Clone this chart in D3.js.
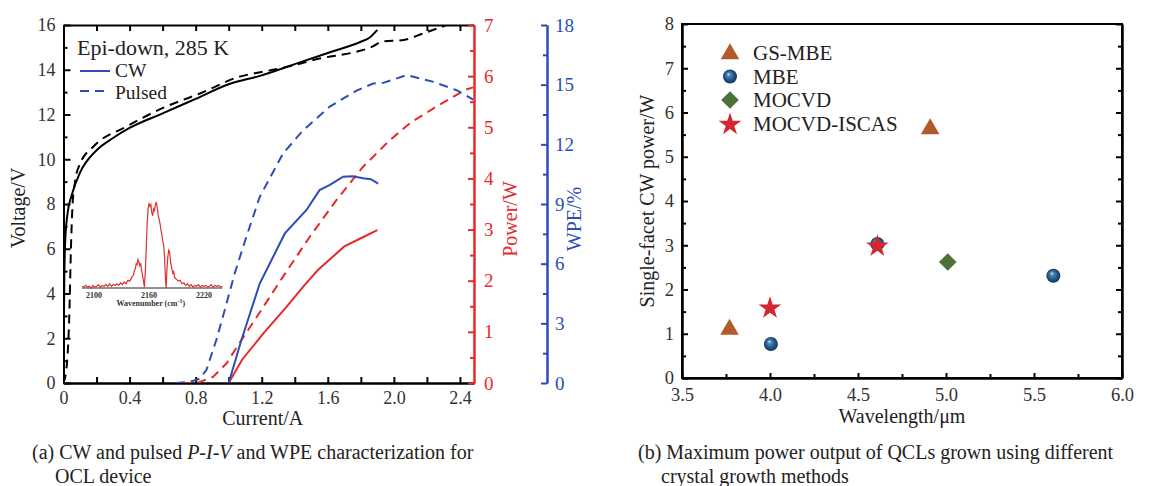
<!DOCTYPE html>
<html><head><meta charset="utf-8">
<script src="https://cdn.jsdelivr.net/npm/d3@7"></script>
<style>
body{margin:0;background:#fff;}
svg{display:block;font-family:"Liberation Serif","Times New Roman",serif;}
.ax path,.ax line{stroke:#000;stroke-width:2;}
.ax text{font-size:18px;fill:#333;font-family:"Liberation Serif","Times New Roman",serif;}
</style></head>
<body><svg id="c" width="1150" height="486"></svg>
<script>
// ---------- (a) data ----------
const cwVoltI   = [0,0.004,0.01,0.025,0.05,0.1,0.2,0.3,0.4,0.6,0.8,1.0,1.2,1.4,1.6,1.8,1.85,1.9];
const cwVoltV   = [0,4,6.3,7.6,8.4,9.4,10.4,10.95,11.4,12.05,12.7,13.35,13.75,14.25,14.75,15.25,15.42,15.78];
const puVoltI   = [0,0.02,0.035,0.045,0.055,0.07,0.1,0.18,0.38,0.62,0.83,1.07,1.2,1.36,1.55,1.77,1.87,1.93,2.06,2.18,2.32];
const puVoltV   = [0,0.8,3,6,8,9,9.8,10.56,11.46,12.35,12.95,13.7,13.9,14.14,14.5,14.8,15.03,15.26,15.33,15.63,16.0];
const cwPowI    = [1.0,1.08,1.21,1.35,1.45,1.54,1.7,1.8,1.9];
const cwPowP    = [0,0.45,0.97,1.49,1.88,2.21,2.67,2.83,2.99];
const puPowI    = [0.72,0.81,0.905,0.986,1.077,1.198,1.329,1.491,1.653,1.814,1.976,2.097,2.24,2.43,2.48];
const puPowP    = [0,0,0.12,0.38,0.84,1.43,2.08,2.86,3.58,4.23,4.75,5.08,5.37,5.73,5.78];
const cwWpeI    = [1.0,1.077,1.188,1.34,1.471,1.55,1.61,1.693,1.75,1.814,1.86,1.905];
const cwWpeW    = [0,2.16,5.0,7.52,8.7,9.7,9.95,10.37,10.4,10.29,10.25,10.03];
const puWpeI    = [0.68,0.76,0.82,0.865,0.925,0.976,1.036,1.107,1.188,1.329,1.45,1.612,1.774,1.875,1.935,2.077,2.24,2.38,2.48];
const puWpeW    = [0,0.05,0.2,0.65,2.16,3.67,5.5,7.35,9.36,11.54,12.7,13.9,14.7,15.06,15.09,15.48,15.14,14.72,14.25];
// inset spectrum
const specWn = [2087,2089,2091,2093,2095,2097,2099,2101,2103,2105,2107,2109,2111,2113,2115,2117,2119,2121,2123,2125,2127,2129,2131,2133,2135,2137,2139,2141,2143,2144,2145,2146,2147,2148,2149,2150,2151,2152,2153,2154,2155,2156,2157,2158,2159,2160,2161,2162,2163,2164,2165,2166,2167,2168,2169,2170,2171,2172,2173,2174,2175,2176,2177,2178,2178.7,2179.5,2180.5,2181.5,2182.5,2183.5,2185,2186,2187,2188,2190,2192,2194,2196,2198,2200,2202,2204,2206,2208,2210,2212,2214,2216,2218,2220,2222,2224,2226,2228,2230,2232,2234,2236,2238,2240];
const specInt = [0.02,0.01,0.03,0.01,0.02,0.0,0.03,0.01,0.02,0.04,0.01,0.03,0.02,0.04,0.02,0.05,0.02,0.04,0.03,0.05,0.03,0.06,0.04,0.07,0.05,0.09,0.08,0.12,0.15,0.2,0.22,0.28,0.27,0.33,0.3,0.26,0.28,0.2,0.14,0.08,0.01,0.2,0.45,0.75,0.92,0.98,0.95,0.97,0.88,0.84,0.92,0.9,0.97,1.0,0.93,0.85,0.8,0.75,0.68,0.62,0.55,0.5,0.35,0.1,0.0,0.2,0.36,0.44,0.42,0.3,0.22,0.17,0.19,0.12,0.1,0.08,0.09,0.05,0.06,0.03,0.05,0.02,0.04,0.01,0.03,0.02,0.04,0.01,0.03,0.02,0.03,0.01,0.02,0.04,0.01,0.03,0.02,0.03,0.01,0.02];
const specTicks = [2100,2160,2220];
const xTicksA = [0,0.4,0.8,1.2,1.6,2.0,2.4];
const vTicks = [0,2,4,6,8,10,12,14,16];
const pTicks = [0,1,2,3,4,5,6,7];
const wTicks = [0,3,6,9,12,15,18];

// ---------- (b) data ----------
const methods = ["GS-MBE","MBE","MOCVD","MOCVD-ISCAS"];
const gsmbeWl = [3.77,4.91], gsmbeP = [1.12,5.65];
const mbeWl = [4.005,4.61,5.61], mbeP = [0.77,3.03,2.31];
const mocvdWl = [5.01], mocvdP = [2.62];
const iscasWl = [4.0,4.61], iscasP = [1.6,3.0];
const xTicksB = [3.5,4.0,4.5,5.0,5.5,6.0];
const yTicksB = [0,1,2,3,4,5,6,7,8];

const SERIF = '"Liberation Serif","Times New Roman",serif';
const RED="#e52a2a", BLUE="#2c4db3";
const svg = d3.select("#c");
const defs = svg.append("defs");
const gr = defs.append("radialGradient").attr("id","ball").attr("cx","50%").attr("cy","50%").attr("fx","38%").attr("fy","32%").attr("r","55%");
gr.append("stop").attr("offset","0%").attr("stop-color","#dfeefa");
gr.append("stop").attr("offset","22%").attr("stop-color","#4d88bb");
gr.append("stop").attr("offset","65%").attr("stop-color","#1d5282");
gr.append("stop").attr("offset","100%").attr("stop-color","#0e2d4d");
defs.append("clipPath").attr("id","clipA").append("rect").attr("x",63.5).attr("y",25).attr("width",410.5).attr("height",358);

function axisG(parent, cls, tr, ax){
  const g = parent.append("g").attr("class",cls).attr("transform",tr).call(ax);
  g.attr("font-family",SERIF);
  return g;
}

// ===== (a) =====
const x = d3.scaleLinear().domain([0,2.485]).range([63.5,474]);
const yV = d3.scaleLinear().domain([0,16]).range([383,25]);
const yP = d3.scaleLinear().domain([0,7]).range([383,25]);
const yW = d3.scaleLinear().domain([0,18]).range([383,25]);

const gA = svg.append("g");
axisG(gA,"ax","translate(0,383)",d3.axisBottom(x).tickValues(xTicksA).tickSizeInner(-6).tickSizeOuter(0).tickPadding(8)
        .tickFormat(d=>d===0?"0":d3.format(".1f")(d)));
axisG(gA,"ax","translate(0,383)",d3.axisBottom(x).tickValues(d3.range(0.2,2.5,0.4)).tickSizeInner(-6).tickSizeOuter(0).tickFormat(""));
axisG(gA,"ax","translate(0,25)",d3.axisTop(x).tickValues(d3.range(0,2.45,0.2)).tickSizeInner(-6).tickSizeOuter(0).tickFormat(""));
axisG(gA,"ax","translate(63.5,0)",d3.axisLeft(yV).tickValues(vTicks).tickSizeInner(-7).tickSizeOuter(0).tickPadding(8).tickFormat(d3.format("d")));
axisG(gA,"ax","translate(63.5,0)",d3.axisLeft(yV).tickValues(d3.range(1,16,2)).tickSizeInner(-4).tickSizeOuter(0).tickFormat(""));
axisG(gA,"ax red","translate(474,0)",d3.axisRight(yP).tickValues(pTicks).tickSizeInner(-6).tickSizeOuter(0).tickPadding(10).tickFormat(d3.format("d")));
axisG(gA,"ax red","translate(474,0)",d3.axisRight(yP).tickValues(d3.range(0.5,7,1)).tickSizeInner(-4).tickSizeOuter(0).tickFormat(""));
axisG(gA,"ax blue","translate(547,0)",d3.axisRight(yW).tickValues(wTicks).tickSizeInner(-6).tickSizeOuter(0).tickPadding(8).tickFormat(d3.format("d")));
axisG(gA,"ax blue","translate(547,0)",d3.axisRight(yW).tickValues(d3.range(1.5,18,3)).tickSizeInner(-4).tickSizeOuter(0).tickFormat(""));
gA.selectAll(".red path,.red line").style("stroke",RED);
gA.selectAll(".red text").style("fill",RED).style("font-size","19px");
gA.selectAll(".blue path,.blue line").style("stroke",BLUE);
gA.selectAll(".blue text").style("fill",BLUE).style("font-size","19px");

const plotA = gA.append("g").attr("clip-path","url(#clipA)");
function drawLine(xs, ys, ysc, col, dash, curve){
  const data = xs.map((v,i)=>[v,ys[i]]);
  plotA.append("path").datum(data)
    .attr("d", d3.line().x(d=>x(d[0])).y(d=>ysc(d[1])).curve(curve))
    .attr("fill","none").attr("stroke",col).attr("stroke-width",2)
    .attr("stroke-dasharray",dash?"9,6":null);
}
drawLine(puVoltI,puVoltV,yV,"#000",true,d3.curveMonotoneX);
drawLine(cwVoltI,cwVoltV,yV,"#000",false,d3.curveMonotoneX);
drawLine(puPowI,puPowP,yP,RED,true,d3.curveLinear);
drawLine(cwPowI,cwPowP,yP,RED,false,d3.curveLinear);
drawLine(puWpeI,puWpeW,yW,BLUE,true,d3.curveLinear);
drawLine(cwWpeI,cwWpeW,yW,BLUE,false,d3.curveLinear);

gA.append("text").attr("x",77).attr("y",55).style("font-size","22px").attr("fill","#222").text("Epi-down, 285 K");
gA.append("line").attr("x1",80).attr("x2",110).attr("y1",71).attr("y2",71).attr("stroke",BLUE).attr("stroke-width",2);
gA.append("text").attr("x",115).attr("y",77).style("font-size","19.5px").attr("fill","#222").text("CW");
gA.append("line").attr("x1",80).attr("x2",110).attr("y1",91).attr("y2",91).attr("stroke",BLUE).attr("stroke-width",2).attr("stroke-dasharray","9,6");
gA.append("text").attr("x",115).attr("y",98.5).style("font-size","19.5px").attr("fill","#222").text("Pulsed");

// inset
const xi = d3.scaleLinear().domain([2100,2220]).range([94,204]);
const yi = d3.scaleLinear().domain([0,1]).range([288,202]);
gA.append("line").attr("x1",xi(2087)).attr("x2",xi(2240)).attr("y1",yi(0)).attr("y2",yi(0)).attr("stroke","#222").attr("stroke-width",1);
gA.append("path").datum(specWn.map((w,i)=>[w,specInt[i]]))
  .attr("d",d3.line().x(d=>xi(d[0])).y(d=>yi(d[1])))
  .attr("fill","none").attr("stroke","#e03030").attr("stroke-width",1.2);
gA.selectAll(".itk").data(specTicks).enter().append("text")
  .attr("x",d=>xi(d)).attr("y",298).attr("text-anchor","middle")
  .style("font-size","8px").style("font-weight","bold").attr("fill","#333").text(d=>d);
const wl = gA.append("text").attr("x",xi(2162)).attr("y",306).attr("text-anchor","middle").style("font-size","8px").style("font-weight","bold").attr("fill","#333");
wl.append("tspan").text("Wavenumber (cm");
wl.append("tspan").attr("dy",-3).style("font-size","6px").text("-1");
wl.append("tspan").attr("dy",3).text(")");

gA.append("text").attr("transform","translate(25,208) rotate(-90)").attr("text-anchor","middle").style("font-size","20px").attr("fill","#222").text("Voltage/V");
gA.append("text").attr("transform","translate(517,219) rotate(-90)").attr("text-anchor","middle").style("font-size","20px").attr("fill",RED).text("Power/W");
gA.append("text").attr("transform","translate(581,219) rotate(-90)").attr("text-anchor","middle").style("font-size","20px").attr("fill",BLUE).text("WPE/%");
gA.append("text").attr("x",x(1.2)+1).attr("y",425).attr("text-anchor","middle").style("font-size","20px").attr("fill","#222").text("Current/A");
const capA = gA.append("text").attr("x",32).attr("y",459).style("font-size","20px").attr("fill","#222");
capA.append("tspan").text("(a) CW and pulsed ");
capA.append("tspan").style("font-style","italic").text("P-I-V");
capA.append("tspan").text(" and WPE characterization for");
gA.append("text").attr("x",55).attr("y",483).style("font-size","20px").attr("fill","#222").text("OCL device");

// ===== (b) =====
const xb = d3.scaleLinear().domain([3.5,6.0]).range([682,1122]);
const yb = d3.scaleLinear().domain([0,8]).range([378,24]);
const gB = svg.append("g");
gB.append("rect").attr("x",682).attr("y",24).attr("width",440).attr("height",354).attr("fill","none").attr("stroke","#000").attr("stroke-width",2);
axisG(gB,"ax","translate(0,378)",d3.axisBottom(xb).tickValues(xTicksB).tickSizeInner(-5).tickSizeOuter(0).tickPadding(10).tickFormat(d3.format(".1f")));
axisG(gB,"ax","translate(0,378)",d3.axisBottom(xb).tickValues(d3.range(3.75,6,0.5)).tickSizeInner(-4).tickSizeOuter(0).tickFormat(""));
axisG(gB,"ax","translate(682,0)",d3.axisLeft(yb).tickValues(yTicksB).tickSizeInner(-6).tickSizeOuter(0).tickPadding(8).tickFormat(d3.format("d")));
axisG(gB,"ax","translate(682,0)",d3.axisLeft(yb).tickValues(d3.range(0.5,8,1)).tickSizeInner(-4).tickSizeOuter(0).tickFormat(""));
axisG(gB,"ax","translate(1122,0)",d3.axisRight(yb).tickValues(yTicksB).tickSizeInner(-6).tickSizeOuter(0).tickFormat(""));
axisG(gB,"ax","translate(1122,0)",d3.axisRight(yb).tickValues(d3.range(0.5,8,1)).tickSizeInner(-4).tickSizeOuter(0).tickFormat(""));
gB.selectAll(".ax text").style("font-size","18.5px");

const triSym = d3.symbol().type(d3.symbolTriangle).size(150);
const dmdSym = d3.symbol().type(d3.symbolSquare).size(155);
const starSym = d3.symbol().type(d3.symbolStar).size(160);
function tri(g,cx,cy){g.append("path").attr("d",triSym()).attr("transform",`translate(${cx},${cy+1})`).attr("fill","#b35a2c");}
function ball(g,cx,cy){g.append("circle").attr("cx",cx).attr("cy",cy).attr("r",7).attr("fill","url(#ball)");}
function dmd(g,cx,cy){g.append("path").attr("d",dmdSym()).attr("transform",`translate(${cx},${cy}) rotate(45)`).attr("fill","#4b7337");}
function star(g,cx,cy){g.append("path").attr("d",starSym()).attr("transform",`translate(${cx},${cy+1})`).attr("fill","#d3262e");}
gsmbeWl.forEach((w,i)=>tri(gB,xb(w),yb(gsmbeP[i])));
mbeWl.forEach((w,i)=>ball(gB,xb(w),yb(mbeP[i])));
mocvdWl.forEach((w,i)=>dmd(gB,xb(w),yb(mocvdP[i])));
iscasWl.forEach((w,i)=>star(gB,xb(w),yb(iscasP[i])));

const legFns=[tri,ball,dmd,star];
methods.forEach((m,i)=>{
  const cy = 53 + i*23.5;
  legFns[i](gB,730,cy);
  gB.append("text").attr("x",753).attr("y",cy+7).style("font-size","21px").attr("fill","#222").text(m);
});
gB.append("text").attr("transform","translate(654,201) rotate(-90)").attr("text-anchor","middle").style("font-size","20px").attr("fill","#222").text("Single-facet CW power/W");
gB.append("text").attr("x",xb(4.75)).attr("y",423).attr("text-anchor","middle").style("font-size","20px").attr("fill","#222").text("Wavelength/μm");
gB.append("text").attr("x",638).attr("y",459).style("font-size","20px").attr("fill","#222").text("(b) Maximum power output of QCLs grown using different");
gB.append("text").attr("x",661).attr("y",483).style("font-size","20px").attr("fill","#222").text("crystal growth methods");
</script></body></html>
